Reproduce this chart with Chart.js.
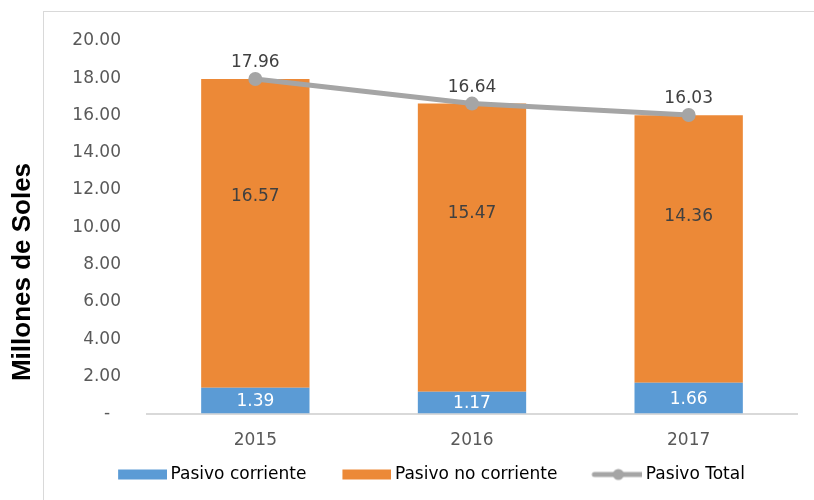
<!DOCTYPE html>
<html>
<head>
<meta charset="utf-8">
<script src="https://cdn.jsdelivr.net/npm/chart.js@4.4.0/dist/chart.umd.min.js"></script>
<style>
    html, body { margin: 0; padding: 0; background: #ffffff; overflow: hidden; }
    #marco {
        position: absolute; left: 43px; top: 11px; width: 800px; height: 520px;
        border-left: 1px solid #d9d9d9; border-top: 1px solid #d9d9d9;
    }
    #pasivos { position: absolute; left: 0; top: 0; }
</style>
</head>
<body>
<div id="marco"></div>
<canvas id="pasivos" width="814" height="500"></canvas>
<script>
const anios = ["2015", "2016", "2017"];
const pasivoCorriente = [1.39, 1.17, 1.66];
const pasivoNoCorriente = [16.57, 15.47, 14.36];
const pasivoTotal = [17.96, 16.64, 16.03];
const nombresSeries = ["Pasivo corriente", "Pasivo no corriente", "Pasivo Total"];
const tituloEjeY = "Millones de Soles";

const AZUL = "#5b9bd5";
const NARANJA = "#ec8937";
const GRIS = "#a5a5a5";

Chart.defaults.font.family = "'DejaVu Sans', sans-serif";
Chart.defaults.font.size = 17;
Chart.defaults.color = "#595959";

// muestra de la leyenda: rectangulo o linea con punto
function muestra(tipo, color) {
    const c = document.createElement("canvas");
    c.width = 82;
    c.height = 14;
    const g = c.getContext("2d");
    g.fillStyle = color;
    if (tipo === "barra") {
        g.fillRect(33, 2, 49, 10);
    } else {
        g.strokeStyle = color;
        g.lineWidth = 5;
        g.lineCap = "round";
        g.beginPath();
        g.moveTo(34, 7);
        g.lineTo(82, 7);
        g.stroke();
        g.beginPath();
        g.arc(58, 7, 5.5, 0, 2 * Math.PI);
        g.fill();
    }
    return c;
}

const muestras = [muestra("barra", AZUL), muestra("barra", NARANJA), muestra("linea", GRIS)];

// etiquetas de datos sobre barras y linea
const etiquetas = {
    id: "etiquetas",
    afterDatasetsDraw(chart) {
        const ctx = chart.ctx;
        ctx.save();
        ctx.font = "17px 'DejaVu Sans'";
        ctx.textAlign = "center";
        ctx.textBaseline = "middle";
        ctx.fillStyle = "#ffffff";
        chart.getDatasetMeta(0).data.forEach((barra, i) => {
            ctx.fillText(pasivoCorriente[i].toFixed(2), barra.x, (barra.y + barra.base) / 2 + 1);
        });
        ctx.fillStyle = "#404040";
        chart.getDatasetMeta(1).data.forEach((barra, i) => {
            ctx.fillText(pasivoNoCorriente[i].toFixed(2), barra.x, barra.base + (barra.y - barra.base) * 0.62);
        });
        chart.getDatasetMeta(2).data.forEach((punto, i) => {
            ctx.fillText(pasivoTotal[i].toFixed(2), punto.x, punto.y - 16);
        });
        ctx.restore();
    }
};

// titulo del eje Y, fuera del marco
const tituloY = {
    id: "tituloY",
    afterDraw(chart) {
        const ctx = chart.ctx;
        ctx.save();
        ctx.translate(23, 272);
        ctx.rotate(-Math.PI / 2);
        ctx.font = "bold 26px 'Liberation Sans'";
        ctx.fillStyle = "#000000";
        ctx.textAlign = "center";
        ctx.textBaseline = "middle";
        ctx.fillText(tituloEjeY, 0, 0);
        ctx.restore();
    }
};

// la leyenda va centrada en el marco original, no en el lienzo
const moverLeyenda = {
    id: "moverLeyenda",
    afterLayout(chart) {
        chart.legend.left += 19;
        chart.legend.right += 19;
        chart.legend.top -= 10;
        chart.legend.bottom -= 10;
    }
};

const ctx = document.getElementById("pasivos").getContext("2d");
const grafico = new Chart(ctx, {
    data: {
        labels: anios,
        datasets: [
            {
                type: "bar",
                label: nombresSeries[0],
                data: pasivoCorriente,
                backgroundColor: AZUL,
                barPercentage: 1,
                categoryPercentage: 0.5,
                order: 1
            },
            {
                type: "bar",
                label: nombresSeries[1],
                data: pasivoNoCorriente,
                backgroundColor: NARANJA,
                barPercentage: 1,
                categoryPercentage: 0.5,
                order: 1
            },
            {
                type: "line",
                label: nombresSeries[2],
                data: pasivoTotal,
                borderColor: GRIS,
                backgroundColor: GRIS,
                borderWidth: 5,
                pointRadius: 7,
                pointBorderWidth: 0,
                tension: 0,
                order: 0
            }
        ]
    },
    options: {
        responsive: false,
        animation: false,
        layout: { padding: { top: 41, right: 17, bottom: -3, left: 0 } },
        scales: {
            x: {
                stacked: true,
                grid: { display: false, drawTicks: false },
                border: { display: true, color: "#d9d9d9", width: 2 },
                ticks: { padding: 17 }
            },
            y: {
                stacked: true,
                min: 0,
                max: 20,
                grid: { display: false, drawTicks: false },
                border: { display: false },
                ticks: {
                    stepSize: 2,
                    padding: 26,
                    callback: v => v === 0 ? "-  " : v.toFixed(2)
                },
                afterFit(escala) { escala.width = 147; }
            }
        },
        plugins: {
            tooltip: { enabled: false },
            legend: {
                position: "bottom",
                labels: {
                    usePointStyle: true,
                    pointStyleWidth: 72,
                    padding: 8,
                    color: "#595959",
                    font: { size: 17 },
                    generateLabels: chart => chart.data.datasets.map((ds, i) => ({
                        text: ds.label,
                        pointStyle: muestras[i],
                        fillStyle: ds.backgroundColor,
                        strokeStyle: ds.backgroundColor,
                        lineWidth: 0,
                        hidden: false,
                        datasetIndex: i
                    }))
                }
            }
        }
    },
    plugins: [etiquetas, tituloY, moverLeyenda]
});
</script>
</body>
</html>
